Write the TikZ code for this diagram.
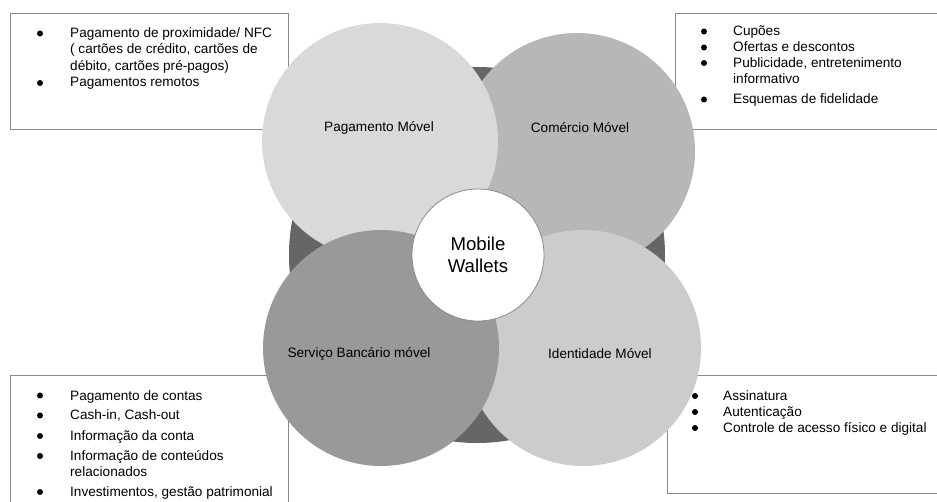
\documentclass[tikz,border=0pt]{standalone}
\usepackage{fontspec}
\setmainfont{Liberation Sans}
\definecolor{cpag}{HTML}{D9D9D9}
\definecolor{ccom}{HTML}{B7B7B7}
\definecolor{cser}{HTML}{999999}
\definecolor{cide}{HTML}{CCCCCC}
\definecolor{cdark}{HTML}{666666}
\definecolor{cline}{HTML}{8A8A8A}
\begin{document}
\begin{tikzpicture}[x=1pt,y=-1pt,
  bigcirc/.style={circle,inner sep=0pt,minimum size=236pt,draw=none},
  infobox/.style={draw=cline,line width=0.9pt},
  itm/.style={anchor=base west,inner sep=0pt,
    font=\fontsize{13.6}{16.5}\selectfont},
  bul/.style={circle,fill=black,inner sep=0pt,minimum size=6pt},
  clabel/.style={inner sep=0pt,font=\fontsize{13.6}{16}\selectfont}]
\useasboundingbox (0,0) rectangle (937,502);
% boxes
\draw[infobox] (10,13) rectangle (288,129);
\draw[infobox] (940,13) -- (675,13) -- (675,129) -- (940,129);
\draw[infobox] (10,505) -- (10,375) -- (288,375) -- (288,505);
\draw[infobox] (940,375) -- (667,375) -- (667,493) -- (940,493);
% background and circles
\node[circle,fill=cdark,inner sep=0pt,minimum size=376pt] (back) at (477,255) {};
\node[bigcirc,fill=ccom] (com) at (577,151) {};
\node[bigcirc,fill=cide] (ide) at (583,348) {};
\node[bigcirc,fill=cpag] (pag) at (380,141) {};
\node[bigcirc,fill=cser] (ser) at (381,348) {};
\node[circle,fill=white,draw=cline,line width=0.8pt,inner sep=0pt,minimum size=132pt,
  align=center,font=\fontsize{18.6}{22}\selectfont] (mw) at (478,255) {Mobile\\Wallets};
% circle labels
\node[clabel] (lpag) at (379,128) {Pagamento Móvel};
\node[clabel] (lcom) at (580,128) {Comércio Móvel};
\node[clabel] (lser) at (359,354) {Serviço Bancário móvel};
\node[clabel] (lide) at (600,354) {Identidade Móvel};
% top-left items
\node[bul] (b11) at (40,33.5) {};
\node[itm] (t11) at (70,37.5) {Pagamento de proximidade/ NFC};
\node[itm] (t11b) at (70,54) {( cartões de crédito, cartões de};
\node[itm] (t11c) at (70,70.5) {débito, cartões pré-pagos)};
\node[bul] (b12) at (40,83) {};
\node[itm] (t12) at (70,87) {Pagamentos remotos};
% top-right items
\node[bul] (b21) at (704,31.5) {};
\node[itm] (t21) at (733,36) {Cupões};
\node[bul] (b22) at (704,47.5) {};
\node[itm] (t22) at (733,52) {Ofertas e descontos};
\node[bul] (b23) at (704,63) {};
\node[itm] (t23) at (733,67.5) {Publicidade, entretenimento};
\node[itm] (t23b) at (733,83.5) {informativo};
\node[bul] (b24) at (704,99.5) {};
\node[itm] (t24) at (733,104) {Esquemas de fidelidade};
% bottom-left items
\node[bul] (b31) at (40,395.5) {};
\node[itm] (t31) at (70,400) {Pagamento de contas};
\node[bul] (b32) at (40,415.5) {};
\node[itm] (t32) at (70,420) {Cash-in, Cash-out};
\node[bul] (b33) at (40,436) {};
\node[itm] (t33) at (70,440.5) {Informação da conta};
\node[bul] (b34) at (40,456) {};
\node[itm] (t34) at (70,460.5) {Informação de conteúdos};
\node[itm] (t34b) at (70,476) {relacionados};
\node[bul] (b35) at (40,492) {};
\node[itm] (t35) at (70,496.5) {Investimentos, gestão patrimonial};
% bottom-right items
\node[bul] (b41) at (695,396) {};
\node[itm] (t41) at (723,400.5) {Assinatura};
\node[bul] (b42) at (695,412) {};
\node[itm] (t42) at (723,416.5) {Autenticação};
\node[bul] (b43) at (695,428) {};
\node[itm] (t43) at (723,432.5) {Controle de acesso físico e digital};
\end{tikzpicture}
\end{document}
